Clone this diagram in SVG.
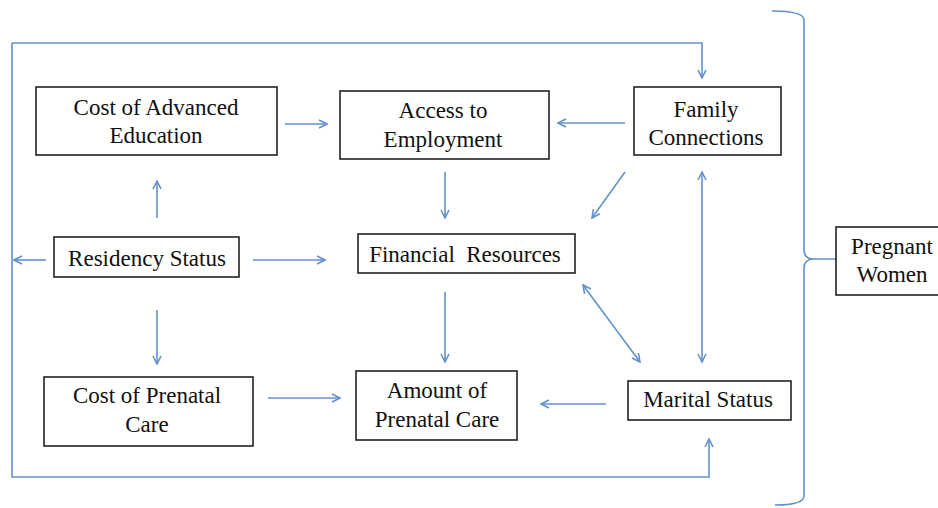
<svg xmlns="http://www.w3.org/2000/svg" width="938" height="508" viewBox="0 0 938 508">
<style>
.box{fill:#fff;stroke:#222;stroke-width:1.6}
.t{font-family:"Liberation Serif","Times New Roman",serif;font-size:23px;fill:#111;text-anchor:middle}
.c{fill:none;stroke:#6491cb;stroke-width:1.6}
</style>
<defs>
<marker id="a" viewBox="0 0 10 10" refX="9" refY="5" markerWidth="10" markerHeight="10" markerUnits="userSpaceOnUse" orient="auto-start-reverse">
<path d="M1,1 L9,5 L1,9" fill="none" stroke="#6491cb" stroke-width="1.6"/>
</marker>
</defs>
<g id="connectors">
<path class="c" d="M12,43 V477 H709 V439" marker-end="url(#a)"/>
<path class="c" d="M12,43 H702 V78" marker-end="url(#a)"/>
<path class="c" d="M46,260 H14" marker-end="url(#a)"/>
<path class="c" d="M253,260 H325" marker-end="url(#a)"/>
<path class="c" d="M157,218 V181" marker-end="url(#a)"/>
<path class="c" d="M157,310 V364" marker-end="url(#a)"/>
<path class="c" d="M285,124 H327" marker-end="url(#a)"/>
<path class="c" d="M625,123 H558" marker-end="url(#a)"/>
<path class="c" d="M445,172 V218" marker-end="url(#a)"/>
<path class="c" d="M625,172 L592,218" marker-end="url(#a)"/>
<path class="c" d="M445,292 V362" marker-end="url(#a)"/>
<path class="c" d="M583,285 L640,362" marker-start="url(#a)" marker-end="url(#a)"/>
<path class="c" d="M702,172 V362" marker-start="url(#a)" marker-end="url(#a)"/>
<path class="c" d="M606,404 H541" marker-end="url(#a)"/>
<path class="c" d="M268,398 H340" marker-end="url(#a)"/>
<path class="c" d="M772,11 Q804,11 804,20 V250 Q804,259 814,259 H836 M814,259 Q804,259 804,268 V496 Q804,505 775,505"/>
</g>
<g id="cost-advanced-education">
<rect class="box" x="36" y="87" width="241" height="68"/>
<text class="t" x="156" y="115">Cost of Advanced</text>
<text class="t" x="156" y="143">Education</text>
</g>
<g id="access-to-employment">
<rect class="box" x="340" y="91" width="209" height="68"/>
<text class="t" x="443" y="118">Access to</text>
<text class="t" x="443" y="147">Employment</text>
</g>
<g id="family-connections">
<rect class="box" x="634" y="87" width="147" height="68"/>
<text class="t" x="706" y="117">Family</text>
<text class="t" x="706" y="145">Connections</text>
</g>
<g id="residency-status">
<rect class="box" x="54" y="237" width="185" height="40"/>
<text class="t" x="147" y="266">Residency Status</text>
</g>
<g id="financial-resources">
<rect class="box" x="358" y="234" width="217" height="39"/>
<text class="t" x="465" y="262" xml:space="preserve">Financial  Resources</text>
</g>
<g id="cost-prenatal-care">
<rect class="box" x="44" y="377" width="209" height="69"/>
<text class="t" x="147" y="403">Cost of Prenatal</text>
<text class="t" x="147" y="432">Care</text>
</g>
<g id="amount-prenatal-care">
<rect class="box" x="356" y="371" width="161" height="69"/>
<text class="t" x="437" y="398">Amount of</text>
<text class="t" x="437" y="427">Prenatal Care</text>
</g>
<g id="marital-status">
<rect class="box" x="628" y="381" width="163" height="39"/>
<text class="t" x="708" y="407">Marital Status</text>
</g>
<g id="pregnant-women">
<rect class="box" x="836" y="227" width="110" height="68"/>
<text class="t" x="892" y="254">Pregnant</text>
<text class="t" x="892" y="282">Women</text>
</g>
</svg>
